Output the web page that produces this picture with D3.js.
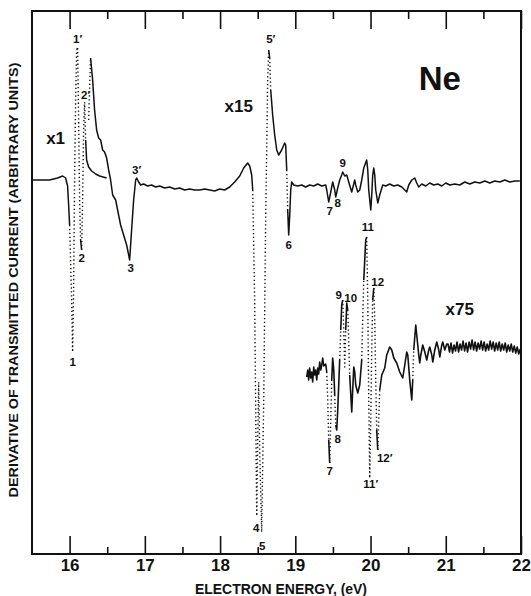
<!DOCTYPE html>
<html><head><meta charset="utf-8">
<script src="https://cdn.jsdelivr.net/npm/d3@7"></script>
<style>
html,body{margin:0;padding:0;background:#fff;}
svg{display:block;}
text{font-family:"Liberation Sans",Arial,sans-serif;font-weight:bold;fill:#111;}
</style></head>
<body>
<svg id="chart" width="531" height="596"></svg>
<script>
// ---------- DATA (electron energy in eV, derivative signal in arbitrary units) ----------
const majorTicks = [16, 17, 18, 19, 20, 21, 22];
const minorTicks = [16.5, 17.5, 18.5, 19.5, 20.5, 21.5];
const xTitle = "ELECTRON ENERGY, (eV)";
const yTitle = "DERIVATIVE OF TRANSMITTED CURRENT (ARBITRARY UNITS)";
const specimen = "Ne";

// gain x1 trace
const traceX1 = [
 [15.508,0.2],[15.734,0.2],[15.840,0.4],[15.907,0.6],[15.947,0.4],[15.973,-0.4],[15.987,-2.3],
 [16.000,-4.3],[16.027,-11.8],[16.040,-17.0],[16.053,-10.8],[16.066,0.2],[16.080,8.2],[16.093,13.2],
 [16.106,13.4],[16.120,6.2],[16.133,-1.8],[16.146,-5.8],[16.160,-6.8],[16.173,-1.8],[16.186,5.2],
 [16.199,8.0],[16.213,4.2],[16.226,2.2],[16.253,1.5],[16.293,1.1],[16.346,0.8],[16.399,0.6],[16.492,0.4]
];

// gain x15 trace
const traceX15 = [
 [16.253,6.2],[16.279,12.4],[16.306,10.2],[16.332,7.2],[16.359,5.2],[16.386,4.4],[16.412,4.2],
 [16.439,3.2],[16.465,3.0],[16.492,2.4],[16.519,1.2],[16.545,0.2],[16.572,-1.3],[16.612,-1.8],
 [16.638,-2.8],[16.678,-4.3],[16.718,-5.3],[16.758,-6.3],[16.798,-7.8],[16.824,-4.8],[16.851,-1.8],
 [16.878,0.2],[16.891,0.4],[16.918,0.0],[16.944,-0.3],[16.984,-0.2],[17.037,-0.4],[17.090,-0.3],
 [17.144,-0.5],[17.197,-0.4],[17.263,-0.6],[17.330,-0.5],[17.396,-0.7],[17.463,-0.6],[17.529,-0.8],
 [17.596,-0.7],[17.662,-0.8],[17.729,-0.8],[17.795,-0.7],[17.862,-0.8],[17.928,-0.9],[17.995,-0.7],
 [18.061,-0.8],[18.128,-0.5],[18.194,0.0],[18.261,0.6],[18.314,1.4],[18.367,1.9],[18.394,1.6],
 [18.420,0.7],[18.434,-0.8],[18.460,-12.0],[18.487,-33.4],[18.500,-26.0],[18.513,-20.0],[18.527,-27.0],
 [18.553,-35.0],[18.580,-21.8],[18.606,-3.8],[18.633,10.2],[18.646,13.2],[18.660,12.4],[18.673,9.2],[18.699,6.7],
 [18.726,4.7],[18.753,3.2],[18.779,2.7],[18.819,3.2],[18.859,3.9],[18.872,3.7],[18.886,1.2],
 [18.899,-2.8],[18.912,-5.3],[18.926,-3.3],[18.939,-0.8],[18.952,0.0],[18.979,-0.3],[19.032,-0.4],
 [19.085,-0.3],[19.138,-0.5],[19.191,-0.3],[19.245,-0.4],[19.298,-0.2],[19.351,-0.4],[19.404,-0.3],
 [19.418,-0.8],[19.444,-2.0],[19.471,-1.0],[19.497,0.0],[19.524,-0.8],[19.537,-1.5],[19.564,-0.6],
 [19.590,0.2],[19.617,0.7],[19.630,1.0],[19.657,0.6],[19.684,0.7],[19.710,0.0],[19.750,-1.0],
 [19.777,-0.2],[19.790,0.2],[19.803,-0.3],[19.830,-1.0],[19.856,-0.8],[19.883,0.2],[19.910,1.4],
 [19.949,2.2],[19.963,1.2],[19.976,-0.8],[20.003,-2.8],[20.016,-1.3],[20.029,0.7],[20.043,1.4],
 [20.056,0.7],[20.069,-0.8],[20.096,-2.1],[20.122,-1.3],[20.162,-0.3],[20.202,-0.4],[20.255,-0.2],
 [20.309,-0.4],[20.362,-0.3],[20.415,-0.5],[20.455,-0.8],[20.481,-1.0],[20.508,-0.3],[20.548,0.2],
 [20.588,0.4],[20.614,-0.1],[20.641,-0.5],[20.681,-0.2],[20.734,-0.4],[20.787,-0.1],[20.840,-0.3],
 [20.894,-0.2],[20.947,-0.4],[21.000,-0.1],[21.053,-0.3],[21.120,-0.2],[21.186,-0.3],[21.253,0.0],
 [21.319,-0.2],[21.386,0.0],[21.452,-0.1],[21.519,0.1],[21.585,-0.1],[21.652,0.1],[21.718,0.0],
 [21.785,0.2],[21.851,0.0],[21.918,0.1],[21.984,0.1]
];

// gain x75 trace
const traceX75 = [
 [19.152,-19.5],[19.165,-18.8],[19.178,-19.8],[19.191,-18.6],[19.205,-19.6],[19.218,-19.0],[19.231,-20.0],
 [19.245,-18.5],[19.258,-19.3],[19.271,-18.8],[19.285,-19.8],[19.298,-18.6],[19.311,-19.2],[19.324,-18.0],
 [19.338,-18.8],[19.351,-18.3],[19.364,-17.6],[19.378,-18.4],[19.404,-18.2],[19.418,-19.0],[19.431,-21.8],
 [19.444,-25.8],[19.457,-28.1],[19.471,-23.8],[19.484,-19.8],[19.497,-17.6],[19.511,-18.8],[19.524,-21.3],
 [19.537,-24.3],[19.551,-24.8],[19.564,-22.8],[19.577,-20.3],[19.590,-17.8],[19.604,-14.8],[19.617,-12.3],
 [19.630,-11.8],[19.644,-14.8],[19.657,-18.5],[19.670,-14.8],[19.684,-12.1],[19.697,-12.8],[19.710,-15.8],
 [19.723,-19.3],[19.750,-23.0],[19.763,-20.8],[19.777,-18.5],[19.790,-19.0],[19.803,-20.3],[19.830,-21.1],
 [19.856,-20.3],[19.883,-17.8],[19.896,-13.8],[19.910,-9.8],[19.936,-5.8],[19.949,-5.5],[19.963,-11.8],
 [19.976,-21.8],[19.989,-29.6],[20.003,-23.8],[20.016,-16.8],[20.029,-11.8],[20.043,-10.6],[20.056,-13.8],
 [20.069,-19.8],[20.082,-24.8],[20.096,-26.8],[20.109,-23.8],[20.122,-20.8],[20.149,-19.3],[20.189,-18.6],
 [20.215,-17.3],[20.255,-16.5],[20.282,-16.8],[20.309,-17.6],[20.348,-18.1],[20.388,-19.0],[20.428,-19.6],
 [20.455,-18.3],[20.481,-17.0],[20.495,-17.3],[20.521,-19.8],[20.548,-21.8],[20.561,-19.8],[20.574,-16.8],
 [20.601,-14.3],[20.614,-15.3],[20.641,-17.3],[20.654,-18.1],[20.668,-17.3],[20.694,-16.3],[20.721,-17.0],
 [20.747,-17.8],[20.774,-16.8],[20.787,-16.5],[20.814,-17.3],[20.827,-18.0],[20.854,-16.8],[20.880,-16.0],
 [20.907,-16.8],[20.920,-17.5],[20.947,-16.3],[20.960,-16.0],[20.987,-16.8],[21.013,-16.2],
 [21.03,-16.2],[21.05,-17.0],[21.07,-16.1],[21.09,-17.1],[21.11,-16.3],[21.13,-16.9],[21.15,-16.0],
 [21.17,-17.0],[21.19,-16.2],[21.21,-16.8],[21.23,-15.9],[21.25,-16.9],[21.27,-16.1],[21.29,-17.0],
 [21.31,-16.0],[21.33,-16.7],[21.35,-15.8],[21.37,-16.8],[21.39,-16.0],[21.41,-16.9],[21.43,-16.1],
 [21.45,-16.7],[21.47,-15.9],[21.49,-16.8],[21.51,-16.0],[21.53,-16.9],[21.55,-16.2],[21.57,-16.8],
 [21.59,-15.9],[21.61,-16.7],[21.63,-16.0],[21.65,-16.9],[21.67,-16.1],[21.69,-16.8],[21.71,-16.0],
 [21.73,-16.9],[21.75,-16.2],[21.77,-16.8],[21.79,-16.1],[21.81,-17.0],[21.83,-16.3],[21.85,-16.9],
 [21.87,-16.2],[21.89,-17.0],[21.91,-16.4],[21.93,-17.1],[21.95,-16.5],[21.97,-17.2],[21.99,-16.7]
];

// resonance labels: [text, eV, signal]
const peakLabels = [
 ["1\u2032",16.106,14.3],["2\u2032",16.213,8.7],["3\u2032",16.891,1.2],
 ["1",16.040,-18.0],["2",16.160,-7.6],["3",16.811,-8.6],
 ["5\u2032",18.673,14.3],["4",18.480,-34.6],["5",18.560,-36.4],["6",18.912,-6.3],
 ["7",19.457,-2.9],["8",19.564,-2.1],["9",19.630,1.9],["11",19.963,-4.5],
 ["9",19.577,-11.3],["10",19.737,-11.6],["12",20.096,-10.0],["7",19.457,-28.9],
 ["8",19.564,-25.7],["11\u2032",20.003,-30.2],["12\u2032",20.189,-27.6]
];
// gain labels: [text, eV, signal]
const gainLabels = [["x1",15.814,4.4],["x15",18.247,7.6],["x75",21.186,-12.7]];

// ---------- CHART ----------
const svg = d3.select("#chart");
const frame = {left:32, right:521, top:11, bottom:554};
const x = d3.scaleLinear().domain([15.5, 22]).range([frame.left, frame.right]);
const y = d3.scaleLinear().domain([-37.2, 17.1]).range([frame.bottom, frame.top]);

// top axis ticks (pointing down, inside)
const gTop = svg.append("g").attr("transform", `translate(0,${frame.top})`);
gTop.call(d3.axisBottom(x).tickValues(majorTicks).tickSize(18).tickFormat(""));
gTop.append("g").call(d3.axisBottom(x).tickValues(minorTicks).tickSize(8).tickFormat(""));
// bottom axis ticks (pointing up, inside)
const gBot = svg.append("g").attr("transform", `translate(0,${frame.bottom})`);
gBot.call(d3.axisTop(x).tickValues(majorTicks).tickSize(18).tickFormat(""));
gBot.append("g").call(d3.axisTop(x).tickValues(minorTicks).tickSize(7).tickFormat(""));
// bottom tick labels
const gLab = svg.append("g").attr("transform", `translate(0,${frame.bottom})`);
gLab.call(d3.axisBottom(x).tickValues(majorTicks).tickSize(0).tickPadding(5).tickFormat(d3.format("d")));
gLab.selectAll("text").style("font-size","17px").style("font-family","'Liberation Sans',Arial,sans-serif").style("font-weight","bold").attr("fill","#111");
svg.selectAll(".domain").remove();
svg.selectAll(".tick line").attr("stroke","#111").attr("stroke-width",1.6);

// frame
svg.append("rect").attr("x",frame.left).attr("y",frame.top)
  .attr("width",frame.right-frame.left).attr("height",frame.bottom-frame.top)
  .attr("fill","none").attr("stroke","#111").attr("stroke-width",2);

// titles
svg.append("text").attr("x",281).attr("y",594).attr("text-anchor","middle")
  .style("font-size","15px").attr("textLength",172).attr("lengthAdjust","spacingAndGlyphs").text(xTitle);
svg.append("text").attr("transform","translate(14,280) rotate(-90)").attr("text-anchor","middle")
  .style("font-size","12.5px").attr("dominant-baseline","central")
  .attr("textLength",435).attr("lengthAdjust","spacingAndGlyphs").text(yTitle);

// traces: fast pen excursions are drawn dotted (as on a chart recorder)
const line = d3.line();
function drawTrace(data, sw){
  const pts = data.map(d => [x(d[0]), y(d[1])]);
  const runs = [];
  let cur = null;
  for (let i = 1; i < pts.length; i++){
    const dx = Math.abs(pts[i][0]-pts[i-1][0]), dy = Math.abs(pts[i][1]-pts[i-1][1]);
    const dotted = dy > 28*Math.max(dx,0.3);
    if (!cur || cur.dotted !== dotted){ cur = {dotted, pts:[pts[i-1]]}; runs.push(cur); }
    cur.pts.push(pts[i]);
  }
  const g = svg.append("g");
  runs.forEach(r => {
    g.append("path").attr("d", line(r.pts)).attr("fill","none")
      .attr("stroke","#111")
      .attr("stroke-width", r.dotted ? 1.4 : sw)
      .attr("stroke-linejoin","round")
      .attr("stroke-dasharray", r.dotted ? "1.3,2.6" : null);
  });
}
drawTrace(traceX1, 1.5);
drawTrace(traceX15, 1.5);
drawTrace(traceX75, 1.6);

// labels
svg.append("g").selectAll("text").data(peakLabels).join("text")
  .attr("x", d => x(d[1])).attr("y", d => y(d[2]))
  .attr("text-anchor","middle").attr("dominant-baseline","central")
  .style("font-size","11.5px").text(d => d[0]);
svg.append("g").selectAll("text").data(gainLabels).join("text")
  .attr("x", d => x(d[1])).attr("y", d => y(d[2]))
  .attr("text-anchor","middle").attr("dominant-baseline","central")
  .style("font-size","17px").text(d => d[0]);
svg.append("text").attr("x", x(20.92)).attr("y", y(9.2)).attr("text-anchor","middle")
  .style("font-size","33px").text(specimen);
</script>
</body></html>
